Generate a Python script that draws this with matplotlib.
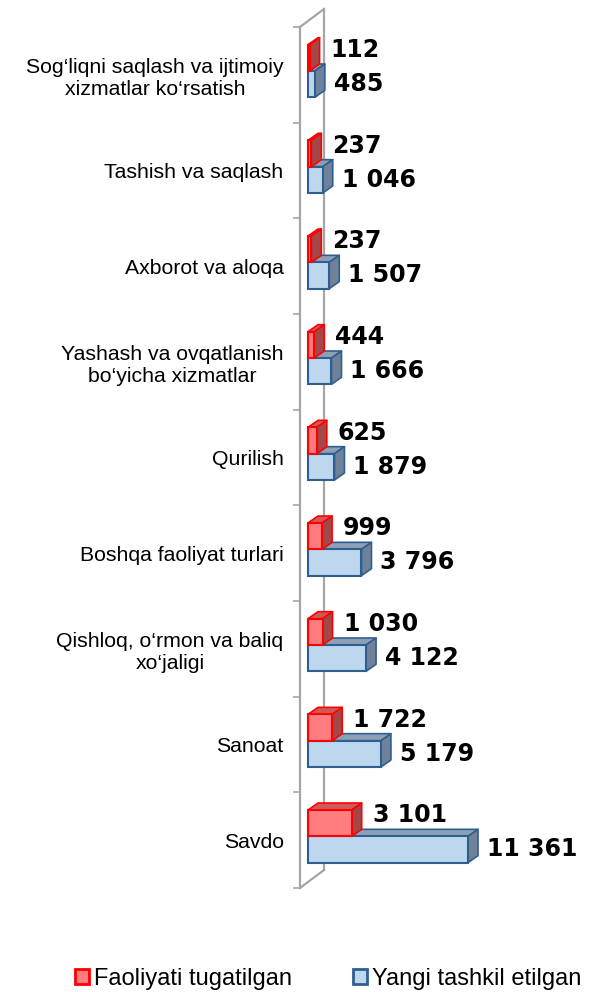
import matplotlib
matplotlib.use("Agg")
import matplotlib.pyplot as plt
from matplotlib.patches import Polygon, Patch
import numpy as np

plt.rcParams['font.family'] = ['Liberation Sans', 'DejaVu Sans']

categories = [
    "Sog\u2018liqni saqlash va ijtimoiy\nxizmatlar ko\u2018rsatish",
    "Tashish va saqlash",
    "Axborot va aloqa",
    "Yashash va ovqatlanish\nbo\u2018yicha xizmatlar",
    "Qurilish",
    "Boshqa faoliyat turlari",
    "Qishloq, o\u2018rmon va baliq\nxo\u2018jaligi",
    "Sanoat",
    "Savdo",
]
closed = [112, 237, 237, 444, 625, 999, 1030, 1722, 3101]
new = [485, 1046, 1507, 1666, 1879, 3796, 4122, 5179, 11361]
legend_labels = ["Faoliyati tugatilgan", "Yangi tashkil etilgan"]

DPI = 100
fig = plt.figure(figsize=(5.89, 9.92), dpi=DPI)
ax = fig.add_axes([300 / 589, (992 - 888) / 992, 289 / 589, 861 / 992])

UPX = 71.0            # value units per pixel
n = len(categories)
BAND_PX = 861 / n
x0 = -8 * UPX
ax.set_xlim(x0, x0 + 289 * UPX)
ax.set_ylim(-0.5, n - 0.5)

def ypx(p):
    return p / BAND_PX

dx, dy = 10 * UPX, ypx(7)
h = 0.275

red_face, red_edge, red_top, red_side = '#ff7c80', '#ff0000', '#d05a5a', '#a34848'
blue_face, blue_edge, blue_top, blue_side = '#bdd7ee', '#2f5f8f', '#8ea0b8', '#6f8299'

def bar3d(v, yb, face, edge, top, side, z):
    yt = yb + h
    ax.add_patch(Polygon([(0, yt), (v, yt), (v + dx, yt + dy), (dx, yt + dy)],
                         closed=True, facecolor=top, edgecolor=edge, lw=1.2, zorder=z, joinstyle='round'))
    ax.add_patch(Polygon([(v, yb), (v, yt), (v + dx, yt + dy), (v + dx, yb + dy)],
                         closed=True, facecolor=side, edgecolor=edge, lw=1.2, zorder=z, joinstyle='round'))
    ax.barh(yb + h / 2, v, height=h, left=0, color=face, edgecolor=edge, lw=1.5, zorder=z + 0.5)

def fmt(v):
    return f"{v:,}".replace(",", " ")

val_font = dict(fontsize=17, fontweight='bold', family='DejaVu Sans', zorder=10)

for i, cat in enumerate(categories):
    c = n - 1 - i
    bar3d(new[i], c - 0.235, blue_face, blue_edge, blue_top, blue_side, 3)
    bar3d(closed[i], c + 0.04, red_face, red_edge, red_top, red_side, 5)
    ax.text(closed[i] + 21 * UPX, c + 0.04 + h / 2 + ypx(8), fmt(closed[i]),
            ha='left', va='center', **val_font)
    ax.text(new[i] + 19 * UPX, c - 0.235 + h / 2, fmt(new[i]),
            ha='left', va='center', **val_font)

# wall
wall_col = '#a6a6a6'
wdx, wdy = 24 * UPX, ypx(18)
ax.plot([x0, x0], [-0.5, n - 0.5], color=wall_col, lw=1.6, clip_on=False, zorder=1)
ax.plot([x0 + wdx, x0 + wdx], [-0.5 + wdy, n - 0.5 + wdy], color=wall_col, lw=1.6, clip_on=False, zorder=1)
ax.plot([x0, x0 + wdx], [n - 0.5, n - 0.5 + wdy], color=wall_col, lw=1.6, clip_on=False, zorder=1)
ax.plot([x0, x0 + wdx], [-0.5, -0.5 + wdy], color=wall_col, lw=1.6, clip_on=False, zorder=1)

for s in ax.spines.values():
    s.set_visible(False)
ax.set_xticks([])
ax.set_yticks(np.arange(-0.5, n, 1.0))
ax.set_yticklabels([])
ax.tick_params(axis='y', which='major', length=5, width=1.2, color=wall_col, direction='out')
ax.set_yticks([n - 1 - i for i in range(n)], minor=True)
ax.set_yticklabels(categories, minor=True, fontsize=15.3)
ax.tick_params(axis='y', which='minor', length=0, pad=11.8)
for lbl in ax.get_yticklabels(minor=True):
    lbl.set_multialignment('center')

handles = [Patch(facecolor=red_face, edgecolor=red_edge, lw=2),
           Patch(facecolor=blue_face, edgecolor=blue_edge, lw=2)]
fig.legend(handles, legend_labels, loc='center', bbox_to_anchor=(0.557, 1 - 979 / 992),
           ncol=2, frameon=False, fontsize=17, handlelength=0.6, handleheight=0.6,
           handletextpad=0.2, columnspacing=2.6, borderpad=0)

fig.savefig('out.png', dpi=DPI)
